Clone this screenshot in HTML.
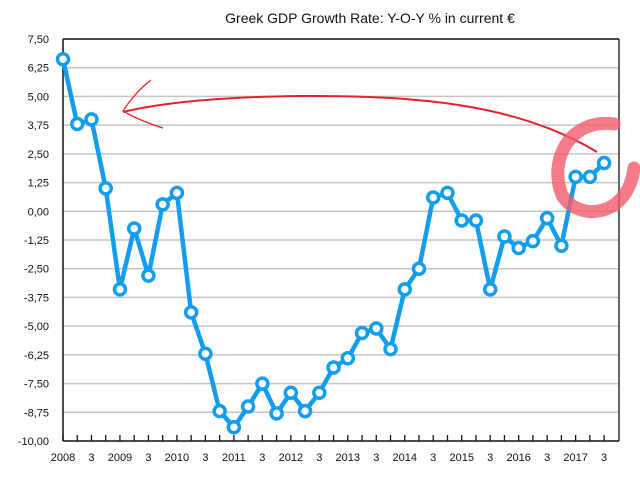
<!DOCTYPE html>
<html><head><meta charset="utf-8"><style>
body{margin:0;background:#fff;}
svg{display:block;font-family:"Liberation Sans",sans-serif;}
</style></head><body>
<svg width="640" height="481">
<g id="grid"></g>
<g id="yl"></g>
<g id="xl"></g>
<text x="370" y="23" font-size="14" text-anchor="middle" fill="#111">Greek GDP Growth Rate: Y-O-Y % in current €</text>
<line x1="619" y1="39" x2="619" y2="441" stroke="#666" stroke-width="2"/>
<line x1="63" y1="39" x2="619" y2="39" stroke="#111" stroke-width="1.5"/>
<line x1="63" y1="39" x2="63" y2="441" stroke="#111" stroke-width="1.5"/>
<line x1="63" y1="441" x2="619" y2="441" stroke="#111" stroke-width="1.5"/>
<g id="series"></g>
<path d="M597 152 C 520 105, 420 95, 300 96 C 220 97, 160 103, 123 112" fill="none" stroke="#e8202e" stroke-width="2"/>
<path d="M151 80 C 138 90, 130 100, 123 111 C 135 118, 150 124, 163 128" fill="none" stroke="#e8202e" stroke-width="1.3"/>
<path d="M614 124 C 570 118, 548 160, 562 195 C 578 222, 628 218, 634 168" fill="none" stroke="#f25a6a" stroke-opacity="0.8" stroke-width="13" stroke-linecap="round"/>
</svg>
<script>
const values=[6.62,3.8,4.0,1.0,-3.4,-0.75,-2.8,0.3,0.8,-4.4,-6.2,-8.7,-9.4,-8.5,-7.5,-8.8,-7.9,-8.7,-7.9,-6.8,-6.4,-5.3,-5.1,-6.0,-3.4,-2.5,0.6,0.8,-0.4,-0.4,-3.4,-1.1,-1.6,-1.3,-0.3,-1.5,1.5,1.5,2.1];
const yTicks=["7,50","6,25","5,00","3,75","2,50","1,25","0,00","-1,25","-2,50","-3,75","-5,00","-6,25","-7,50","-8,75","-10,00"];
const xLabels=["2008","3","2009","3","2010","3","2011","3","2012","3","2013","3","2014","3","2015","3","2016","3","2017","3"];
const NS="http://www.w3.org/2000/svg";
const X0=63,DX=14.24,Y0=39,Y1=441,VMAX=7.5,VMIN=-10;
const xs=i=>X0+i*DX;
const ys=v=>Y0+(VMAX-v)/(VMAX-VMIN)*(Y1-Y0);
function mk(t,a,p){const e=document.createElementNS(NS,t);for(const k in a)e.setAttribute(k,a[k]);p.appendChild(e);return e;}
const grid=document.getElementById('grid'),yl=document.getElementById('yl'),xl=document.getElementById('xl'),ser=document.getElementById('series');
yTicks.forEach((t,i)=>{const v=VMAX-i*1.25,y=ys(v);
 if(i>0&&i<yTicks.length-1){const l=mk('line',{x1:X0,x2:619,y1:y,y2:y,stroke:'#c4c4c4','stroke-width':1.5},grid);
 
 }
 const tx=mk('text',{x:49,y:y+4,'font-size':11,'text-anchor':'end',fill:'#111'},yl);tx.textContent=t;
 
 });
for(let i=0;i<=38;i++){const l=mk('line',{x1:xs(i),x2:xs(i),y1:435,y2:441,stroke:'#111','stroke-width':1.3},xl);
 
 }
xLabels.forEach((t,i)=>{const tx=mk('text',{x:xs(i*2),y:461,'font-size':11,'text-anchor':'middle',fill:'#111'},xl);tx.textContent=t;
 
 });
const pl=mk('polyline',{points:values.map((v,i)=>xs(i)+','+ys(v)).join(' '),fill:'none',stroke:'#129df0','stroke-width':4.5,'stroke-linejoin':'round'},ser);


values.forEach((v,i)=>{const c=mk('circle',{cx:xs(i),cy:ys(v),r:5.5,fill:'#fff',stroke:'#129df0','stroke-width':3.5},ser);
 
 });
</script>
</body></html>
